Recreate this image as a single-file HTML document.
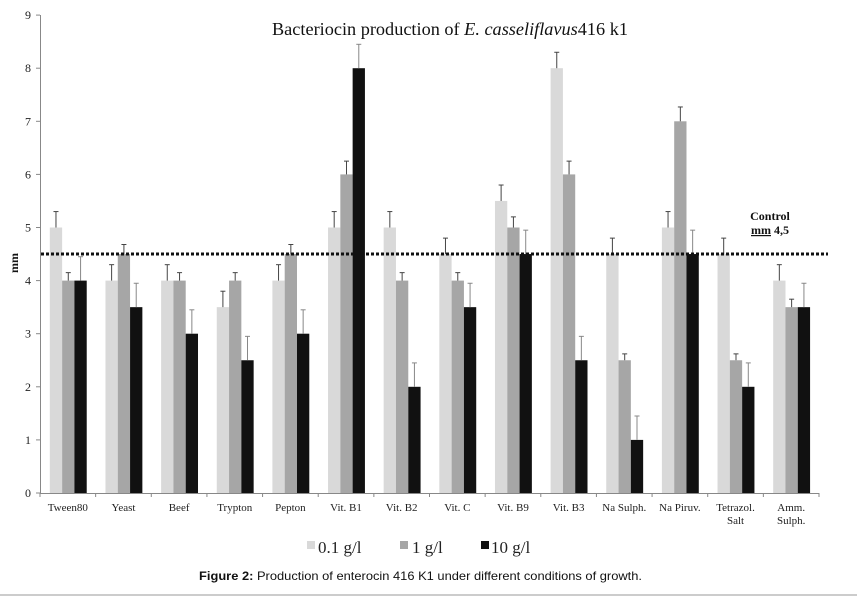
<!DOCTYPE html>
<html><head><meta charset="utf-8"><style>
html,body{margin:0;padding:0;background:#fff;}
svg{display:block;}
</style></head><body>
<svg width="857" height="597" viewBox="0 0 857 597" xmlns="http://www.w3.org/2000/svg">
<rect width="857" height="597" fill="#fff"/>
<text x="450" y="35" text-anchor="middle" font-family="Liberation Serif, serif" font-size="18" fill="#111" textLength="356" lengthAdjust="spacingAndGlyphs">Bacteriocin production of <tspan font-style="italic">E. casseliflavus</tspan>416 k1</text>
<g id="bars"></g>
<g stroke="#888" stroke-width="1" fill="none">
<line x1="40.5" y1="15" x2="40.5" y2="493"/>
<line x1="40" y1="493.5" x2="819" y2="493.5"/>
</g>
<g id="ticks" stroke="#888" stroke-width="1"></g>
<g id="ylab" font-family="Liberation Serif, serif" font-size="12" fill="#222" text-anchor="end"></g>
<g id="xlab" font-family="Liberation Serif, serif" font-size="11" fill="#222" text-anchor="middle"></g>
<line x1="41" y1="254" x2="828" y2="254" stroke="#111" stroke-width="3" stroke-dasharray="3,2"/>
<text x="770" y="220" text-anchor="middle" font-family="Liberation Serif, serif" font-size="12" font-weight="bold" fill="#111">Control</text>
<text x="770" y="234" text-anchor="middle" font-family="Liberation Serif, serif" font-size="12" font-weight="bold" fill="#111"><tspan text-decoration="underline">mm</tspan> 4,5</text>
<text transform="translate(18,263) rotate(-90)" text-anchor="middle" font-family="Liberation Serif, serif" font-size="12" font-weight="bold" fill="#111">mm</text>
<rect x="307" y="541" width="8" height="8" fill="#d9d9d9"/>
<text x="318" y="553" font-family="Liberation Serif, serif" font-size="17" fill="#222">0.1 g/l</text>
<rect x="400" y="541" width="8" height="8" fill="#a6a6a6"/>
<text x="412" y="553" font-family="Liberation Serif, serif" font-size="17" fill="#222">1 g/l</text>
<rect x="481" y="541" width="8" height="8" fill="#111"/>
<text x="491" y="553" font-family="Liberation Serif, serif" font-size="17" fill="#222">10 g/l</text>
<text x="199" y="580" font-family="Liberation Sans, Arial, sans-serif" font-size="12" fill="#111" textLength="443" lengthAdjust="spacingAndGlyphs"><tspan font-weight="bold">Figure 2:</tspan> Production of enterocin 416 K1 under different conditions of growth.</text>
<line x1="0" y1="595" x2="857" y2="595" stroke="#bbb" stroke-width="1.5"/>
<script>
(function(){
var NS="http://www.w3.org/2000/svg";
function el(p,t,a,txt){var e=document.createElementNS(NS,t);for(var k in a)e.setAttribute(k,a[k]);if(txt!=null)e.textContent=txt;p.appendChild(e);return e;}
function Y(v){return 493-53.1*v;}
var data=[
["Tween80",[5,5.3],[4,4.15],[4,4.45]],
["Yeast",[4,4.3],[4.5,4.68],[3.5,3.95]],
["Beef",[4,4.3],[4,4.15],[3,3.45]],
["Trypton",[3.5,3.8],[4,4.15],[2.5,2.95]],
["Pepton",[4,4.3],[4.5,4.68],[3,3.45]],
["Vit. B1",[5,5.3],[6,6.25],[8,8.45]],
["Vit. B2",[5,5.3],[4,4.15],[2,2.45]],
["Vit. C",[4.5,4.8],[4,4.15],[3.5,3.95]],
["Vit. B9",[5.5,5.8],[5,5.2],[4.5,4.95]],
["Vit. B3",[8,8.3],[6,6.25],[2.5,2.95]],
["Na Sulph.",[4.5,4.8],[2.5,2.62],[1,1.45]],
["Na Piruv.",[5,5.3],[7,7.27],[4.5,4.95]],
["Tetrazol.|Salt",[4.5,4.8],[2.5,2.62],[2,2.45]],
["Amm.|Sulph.",[4,4.3],[3.5,3.65],[3.5,3.95]]
];
var cols=["#d9d9d9","#a6a6a6","#111111"];
var ecol=["#444","#444","#888"];
var gw=(819-40)/14, bw=12.3;
var bars=document.getElementById("bars"),ticks=document.getElementById("ticks"),yl=document.getElementById("ylab"),xl=document.getElementById("xlab");
for(var v=0;v<=9;v++){var y=Y(v);el(ticks,"line",{x1:36,y1:y,x2:40,y2:y});el(yl,"text",{x:31,y:y+4},String(v));}
for(var i=0;i<=14;i++){var x=40+gw*i;el(ticks,"line",{x1:x,y1:493,x2:x,y2:497});}
data.forEach(function(d,i){
 var c=40+gw*(i+0.5);
 for(var j=0;j<3;j++){
  var x=c-18+j*bw, top=Y(d[j+1][0]);
  el(bars,"rect",{x:x,y:top,width:bw,height:493-top,fill:cols[j]});
  var cx=x+bw/2, et=Y(d[j+1][1]);
  el(bars,"line",{x1:cx,y1:top,x2:cx,y2:et,stroke:ecol[j],"stroke-width":1});
  el(bars,"line",{x1:cx-2.5,y1:et,x2:cx+2.5,y2:et,stroke:ecol[j],"stroke-width":1});
 }
 var parts=d[0].split("|");
 parts.forEach(function(p,k){el(xl,"text",{x:c,y:511+k*13},p);});
});
})();
</script>
</svg>
</body></html>
